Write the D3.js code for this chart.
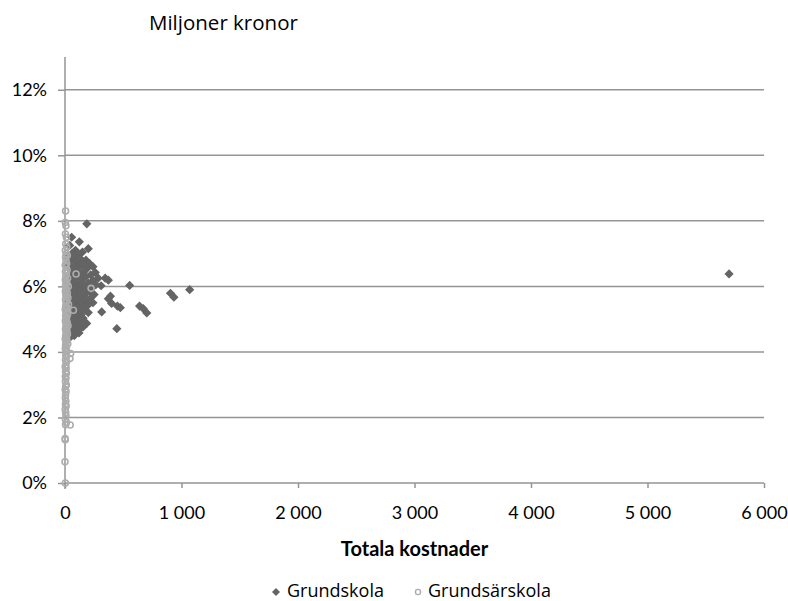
<!DOCTYPE html>
<html>
<head>
<meta charset="utf-8">
<script src="https://cdn.jsdelivr.net/npm/d3@7"></script>
<style>
  body { margin: 0; background: #fff; }
  svg { display: block; }
</style>
</head>
<body>
<svg id="chart" width="788" height="601"></svg>
<script>
// Axis ticks
const xTicks = [0, 1000, 2000, 3000, 4000, 5000, 6000];
const yTicks = [0, 2, 4, 6, 8, 10, 12];

// Grundskola: [totala kostnader (mkr), andel (%)]
const grundskola = [
  [5700, 6.38], [1070, 5.90], [905, 5.79], [935, 5.67], [640, 5.40], [672, 5.32],
  [702, 5.19], [555, 6.03], [475, 5.35], [445, 4.71], [450, 5.40], [400, 5.48],
  [390, 5.70], [372, 5.62], [345, 6.25], [372, 6.19], [310, 6.02], [315, 5.22],
  [187, 7.91], [57, 7.50], [123, 7.36], [200, 7.15],
  [40, 7.25], [90, 7.10], [150, 7.05], [60, 7.00], [110, 6.95],
  [30, 6.90], [75, 6.88], [130, 6.85], [180, 6.80], [50, 6.78], [100, 6.75],
  [210, 6.70], [155, 6.68], [25, 6.65], [80, 6.62], [240, 6.60], [120, 6.58], [190, 6.55],
  [45, 6.50], [95, 6.48], [160, 6.45], [260, 6.42], [70, 6.40], [130, 6.38], [220, 6.35],
  [35, 6.32], [180, 6.30], [105, 6.28], [285, 6.25], [60, 6.22], [150, 6.20], [240, 6.18],
  [20, 6.15], [85, 6.12], [200, 6.10], [125, 6.08], [265, 6.05], [45, 6.02], [170, 6.00],
  [100, 5.97], [230, 5.95], [65, 5.92], [140, 5.90], [210, 5.87], [30, 5.85], [115, 5.83], [185, 5.80],
  [55, 5.78], [250, 5.75], [90, 5.72], [160, 5.70], [40, 5.68], [130, 5.65], [215, 5.62],
  [75, 5.60], [175, 5.57], [25, 5.55], [110, 5.52], [240, 5.50], [60, 5.47], [145, 5.45], [195, 5.42],
  [35, 5.38], [95, 5.35], [165, 5.32], [50, 5.30], [125, 5.27], [80, 5.22], [200, 5.20],
  [30, 5.17], [140, 5.15], [65, 5.12], [105, 5.08], [45, 5.05], [155, 5.03], [85, 5.00],
  [129, 5.06], [143, 4.91], [186, 4.87], [155, 4.76],
  [130, 4.97], [25, 4.95], [70, 4.92], [160, 4.88], [40, 4.85], [110, 4.82], [55, 4.78],
  [140, 4.75], [30, 4.70], [90, 4.68], [60, 4.62], [120, 4.58], [35, 4.55], [80, 4.50], [45, 4.45]
];

// Grundsärskola: [totala kostnader (mkr), andel (%)]
const grundsarskola = [
  [5, 8.30], [3, 7.95], [8, 7.85], [4, 7.60], [12, 7.50], [6, 7.30], [15, 7.20], [3, 7.10],
  [10, 7.00], [20, 6.95], [5, 6.90], [8, 6.80], [14, 6.70], [2, 6.65], [9, 6.60], [18, 6.50],
  [4, 6.45], [12, 6.40], [95, 6.38], [6, 6.30], [22, 6.25], [3, 6.20], [10, 6.15], [16, 6.10],
  [5, 6.05], [28, 6.00], [8, 5.95], [224, 5.94], [13, 5.90], [3, 5.85], [20, 5.80], [7, 5.75],
  [11, 5.70], [25, 5.65], [4, 5.60], [15, 5.55], [9, 5.50], [30, 5.45], [6, 5.40], [18, 5.35],
  [2, 5.30], [72, 5.27], [12, 5.25], [8, 5.20], [22, 5.15], [5, 5.10], [14, 5.05], [10, 5.00],
  [3, 4.95], [19, 4.90], [7, 4.85], [26, 4.80], [11, 4.75], [4, 4.70], [16, 4.65], [9, 4.60],
  [21, 4.55], [6, 4.50], [13, 4.45], [2, 4.40], [17, 4.35], [8, 4.30], [24, 4.25], [5, 4.20],
  [12, 4.15], [3, 4.10], [9, 4.05], [15, 4.00], [48, 3.95], [6, 3.90], [11, 3.85], [42, 3.80],
  [4, 3.75], [14, 3.70], [7, 3.60], [2, 3.55], [10, 3.50], [5, 3.40], [12, 3.35], [3, 3.25],
  [8, 3.20], [4, 3.10], [11, 3.00], [6, 2.95], [2, 2.85], [9, 2.80], [5, 2.70], [3, 2.60],
  [7, 2.50], [4, 2.40], [10, 2.35], [2, 2.25], [6, 2.15], [8, 2.05], [3, 1.95], [12, 1.85],
  [5, 1.78], [45, 1.77], [1, 1.36], [2, 1.32], [0, 0.65], [3, 0.00]
];

const titleText = "Miljoner kronor";
const xTitle = "Totala kostnader";
const seriesNames = ["Grundskola", "Grundsärskola"];

const svg = d3.select("#chart");
const plotLeft = 65, plotRight = 764, plotTop = 57, plotBottom = 483;

const x = d3.scaleLinear().domain([0, 6000]).range([plotLeft, plotRight]);
const y = d3.scaleLinear().domain([0, 13]).range([plotBottom, plotTop]);

const sv = d3.formatLocale({ decimal: ",", thousands: "\u00a0", grouping: [3], currency: ["", " kr"] });
const fmtX = sv.format(",d");

const gridColor = "#959595";
const tickFont = "Lato, 'Liberation Sans', sans-serif";
const labelFont = "'Open Sans', sans-serif";

// Horizontal gridlines
svg.append("g")
  .selectAll("line")
  .data(yTicks.filter(d => d > 0))
  .join("line")
  .attr("x1", plotLeft).attr("x2", plotRight)
  .attr("y1", d => y(d)).attr("y2", d => y(d))
  .attr("stroke", gridColor).attr("stroke-width", 1.5);

// Y axis
const yAxis = svg.append("g")
  .attr("transform", `translate(${plotLeft},0)`)
  .call(d3.axisLeft(y).tickValues(yTicks).tickFormat(d => d + "%").tickSize(7).tickPadding(11).tickSizeOuter(0));
yAxis.select(".domain").remove();
yAxis.append("line").attr("x1", 0).attr("x2", 0).attr("y1", plotTop).attr("y2", plotBottom + 6)
  .attr("stroke", gridColor).attr("stroke-width", 1.5);
yAxis.selectAll(".tick line").attr("stroke", gridColor).attr("stroke-width", 1.5);
yAxis.selectAll(".tick text").attr("fill", "#000").style("font-family", tickFont).style("font-size", "18px");

// X axis
const xAxis = svg.append("g")
  .attr("transform", `translate(0,${plotBottom})`)
  .call(d3.axisBottom(x).tickValues(xTicks).tickFormat(fmtX).tickSize(5).tickPadding(18).tickSizeOuter(0));
xAxis.select(".domain").remove();
xAxis.append("line").attr("x1", plotLeft).attr("x2", plotRight).attr("y1", 0).attr("y2", 0)
  .attr("stroke", gridColor).attr("stroke-width", 1.5);
xAxis.selectAll(".tick line").attr("stroke", gridColor).attr("stroke-width", 1.5);
xAxis.selectAll(".tick text").attr("fill", "#000").style("font-family", tickFont).style("font-size", "18px");

// Diamond marker
const diamond = h => `M0,${-h}L${h},0L0,${h}L${-h},0Z`;

svg.append("g")
  .selectAll("path")
  .data(grundskola)
  .join("path")
  .attr("transform", d => `translate(${x(d[0])},${y(d[1])})`)
  .attr("d", diamond(4.6))
  .attr("fill", "#646464");

svg.append("g")
  .selectAll("circle")
  .data(grundsarskola)
  .join("circle")
  .attr("cx", d => x(d[0])).attr("cy", d => y(d[1]))
  .attr("r", 3)
  .attr("fill", "none")
  .attr("stroke", "#adadad")
  .attr("stroke-width", 1.6);

// Unit label
svg.append("text")
  .attr("x", 149).attr("y", 30)
  .style("font-family", labelFont).style("font-size", "20.5px")
  .attr("fill", "#000")
  .text(titleText);

// X axis title
svg.append("text")
  .attr("x", (plotLeft + plotRight) / 2).attr("y", 556)
  .attr("text-anchor", "middle")
  .style("font-family", tickFont).style("font-size", "20px").style("font-weight", "bold")
  .attr("fill", "#000")
  .text(xTitle);

// Legend
const legend = svg.append("g");
legend.append("path").attr("transform", "translate(276,592)").attr("d", diamond(4)).attr("fill", "#646464");
legend.append("text").attr("x", 287).attr("y", 597)
  .style("font-family", labelFont).style("font-size", "18px").text(seriesNames[0]);
legend.append("circle").attr("cx", 418).attr("cy", 592).attr("r", 2.6)
  .attr("fill", "none").attr("stroke", "#adadad").attr("stroke-width", 1.4);
legend.append("text").attr("x", 428).attr("y", 597)
  .style("font-family", labelFont).style("font-size", "18px").text(seriesNames[1]);
</script>
</body>
</html>
